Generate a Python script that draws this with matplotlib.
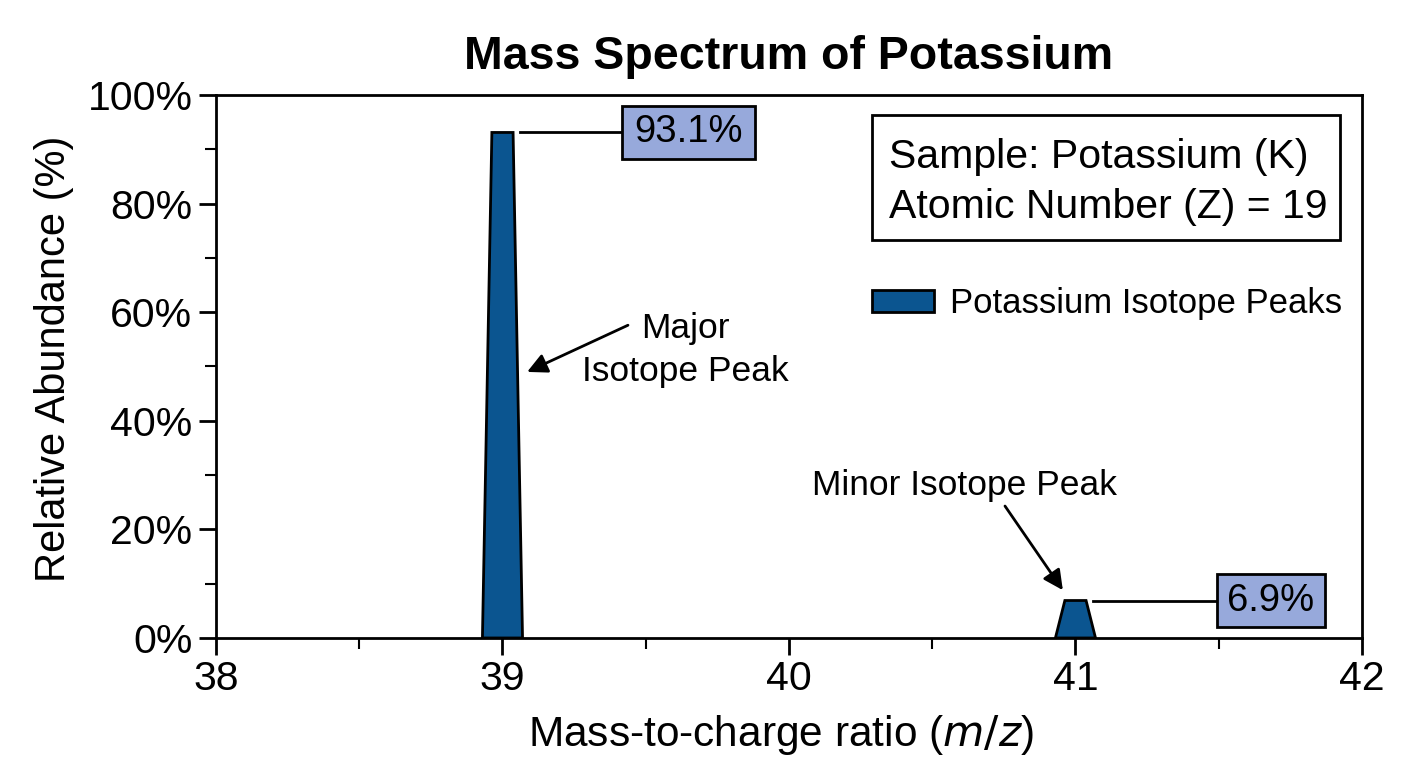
import matplotlib
matplotlib.use("Agg")
import matplotlib.pyplot as plt
from matplotlib.patches import Rectangle
from matplotlib.ticker import MultipleLocator, FuncFormatter

plt.rcParams['font.family'] = ['Liberation Sans', 'DejaVu Sans']

# data
masses = [39, 41]
abundances = [93.1, 6.9]
value_labels = ['93.1%', '6.9%']
peak_notes = ['Major\nIsotope Peak', 'Minor Isotope Peak']
info_lines = ['Sample: Potassium (K)', 'Atomic Number (Z) = 19']

peak_color = '#0B5590'
label_color = '#97A9DB'

fig = plt.figure(figsize=(14.08, 7.68), dpi=100)
ax = fig.add_axes([0.1534, 0.1693, 0.8139, 0.7070])

# trapezoid peaks
base_hw = 0.07
top_hw = 0.037
for i, (m, a) in enumerate(zip(masses, abundances)):
    ax.fill([m - base_hw, m - top_hw, m + top_hw, m + base_hw],
            [0, a, a, 0], facecolor=peak_color, edgecolor='black', lw=2,
            zorder=3, label='Potassium Isotope Peaks' if i == 0 else None)

# value labels with leader lines
label_dx = [0.649, 0.682]
box_w = [0.464, 0.377]
box_h = 9.9
for m, a, txt, dx, w in zip(masses, abundances, value_labels, label_dx, box_w):
    ax.plot([m + top_hw + 0.025, m + dx], [a, a], color='black', lw=2, zorder=2)
    ax.add_patch(Rectangle((m + dx - w / 2, a - box_h / 2), w, box_h,
                           facecolor=label_color, edgecolor='black', lw=2, zorder=4))
    ax.text(m + dx, a, txt, ha='center', va='center', fontsize=27.5, zorder=5)

# annotations
ax.text(39.64, 53.0, peak_notes[0], ha='center', va='center', fontsize=25.5,
        multialignment='center', linespacing=1.4)
ax.annotate('', xy=(39.086, 49.0), xytext=(39.438, 57.6),
            arrowprops=dict(arrowstyle='-|>', color='black', lw=2,
                            mutation_scale=30, shrinkA=0, shrinkB=0))
ax.text(40.614, 28.0, peak_notes[1], ha='center', va='center', fontsize=25.5)
ax.annotate('', xy=(40.956, 8.8), xytext=(40.754, 24.3),
            arrowprops=dict(arrowstyle='-|>', color='black', lw=2,
                            mutation_scale=30, shrinkA=0, shrinkB=0))

# info box
ax.add_patch(Rectangle((0.5724, 0.733), 0.4084, 0.230, transform=ax.transAxes,
                       facecolor='white', edgecolor='black', lw=2, zorder=4))
for line, yb in zip(info_lines, [0.8656, 0.7735]):
    ax.text(0.5873, yb, line, transform=ax.transAxes, ha='left', va='baseline',
            fontsize=29.5, zorder=5)

ax.legend(loc='center left', bbox_to_anchor=(0.5724, 0.616), frameon=False,
          fontsize=25, handlelength=1.8, handleheight=0.6, handletextpad=0.45,
          borderpad=0, borderaxespad=0)

ax.set_xlim(38, 42)
ax.set_ylim(0, 100)
ax.xaxis.set_major_locator(MultipleLocator(1))
ax.xaxis.set_minor_locator(MultipleLocator(0.5))
ax.yaxis.set_major_locator(MultipleLocator(20))
ax.yaxis.set_minor_locator(MultipleLocator(10))
ax.yaxis.set_major_formatter(FuncFormatter(lambda v, p: f'{v:.0f}%'))
ax.tick_params(which='major', length=12, width=2, labelsize=29.5, direction='out')
ax.tick_params(axis='y', which='major', pad=5)
ax.tick_params(which='minor', length=8, width=1.5, direction='out')
for s in ax.spines.values():
    s.set_linewidth(2)

ax.set_title('Mass Spectrum of Potassium', fontsize=33.5, fontweight='bold', pad=19)
ax.set_xlabel('Mass-to-charge ratio ($\\it{m/z}$)', fontsize=30.5)
ax.set_ylabel('Relative Abundance (%)', fontsize=30)
ax.xaxis.set_label_coords(0.493, -0.138)
ax.yaxis.set_label_coords(-0.124, 0.514)

fig.savefig('out.png', dpi=100)
